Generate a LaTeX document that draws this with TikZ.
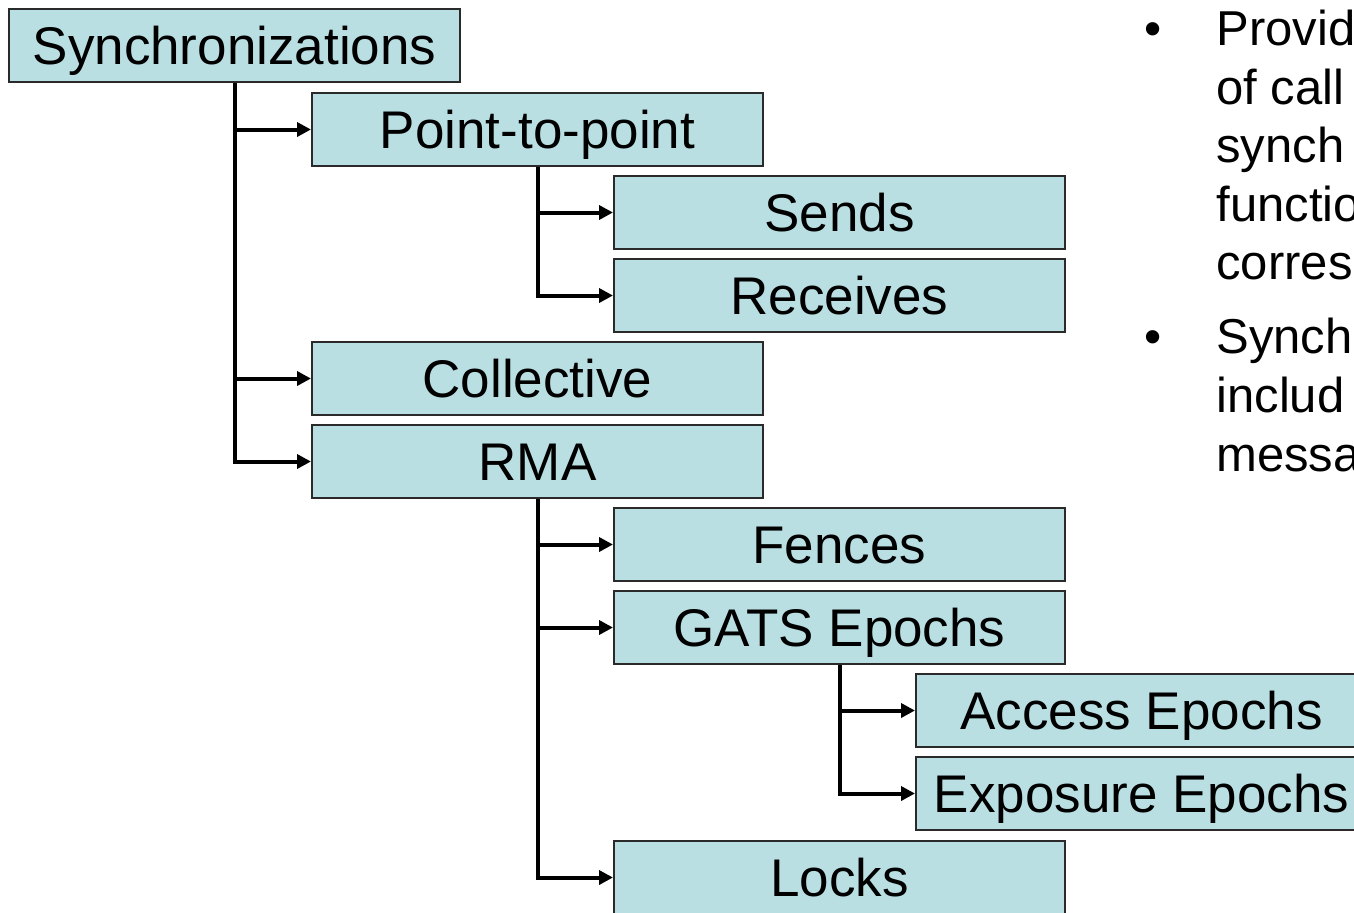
\documentclass[tikz,border=0pt]{standalone}
\usepackage{fontspec}
\setmainfont{Liberation Sans}
\usetikzlibrary{arrows.meta}
\definecolor{boxfill}{HTML}{B9DFE3}
\definecolor{boxline}{HTML}{2A2A2A}
\tikzset{
  tbox/.style={draw=boxline, line width=1pt, fill=boxfill, minimum width=225.5pt, minimum height=36.5pt,
    inner sep=0pt, text height=19pt, text depth=0pt, font=\fontsize{26.5}{30}\selectfont},
  conn/.style={line width=2pt, -{Triangle[length=7pt,width=7pt]}},
  btxt/.style={anchor=base west, inner sep=0pt, font=\fontsize{24.5}{29.5}\selectfont},
  bull/.style={anchor=base, inner sep=0pt, font=\fontsize{24.5}{29.5}\selectfont}
}
\begin{document}
\begin{tikzpicture}[x=0.5pt,y=-0.5pt]
\clip (0,0) rectangle (1354,912);
\fill[white] (0,0) rectangle (1354,912);
\node[tbox] (sync) at (234.5,45.5) {Synchronizations};
\node[tbox] (ptp) at (537.5,129.5) {Point-to-point};
\node[tbox] (sends) at (839.5,212.5) {Sends};
\node[tbox] (recv) at (839.5,295.5) {Receives};
\node[tbox] (coll) at (537.5,378.5) {Collective};
\node[tbox] (rma) at (537.5,461.5) {RMA};
\node[tbox] (fences) at (839.5,544.5) {Fences};
\node[tbox] (gats) at (839.5,627.5) {GATS Epochs};
\node[tbox] (access) at (1141.5,710.5) {Access Epochs};
\node[tbox] (expo) at (1141.5,793.5) {Exposure Epochs};
\node[tbox] (locks) at (839.5,877.5) {Locks};
\draw[conn] (sync.south) |- (ptp.west);
\draw[conn] (sync.south) |- (coll.west);
\draw[conn] (sync.south) |- (rma.west);
\draw[conn] (ptp.south) |- (sends.west);
\draw[conn] (ptp.south) |- (recv.west);
\draw[conn] (rma.south) |- (fences.west);
\draw[conn] (rma.south) |- (gats.west);
\draw[conn] (rma.south) |- (locks.west);
\draw[conn] (gats.south) |- (access.west);
\draw[conn] (gats.south) |- (expo.west);
\node[bull] (b1) at (1153,45) {•};
\node[btxt] (t1) at (1216,45) {Provid};
\node[btxt] (t2) at (1216,104) {of call};
\node[btxt] (t3) at (1216,162) {synch};
\node[btxt] (t4) at (1216,221) {functio};
\node[btxt] (t5) at (1216,279) {corres};
\node[bull] (b2) at (1153,353) {•};
\node[btxt] (t6) at (1216,353) {Synch};
\node[btxt] (t7) at (1216,412) {includ};
\node[btxt] (t8) at (1216,471) {messa};
\end{tikzpicture}
\end{document}
